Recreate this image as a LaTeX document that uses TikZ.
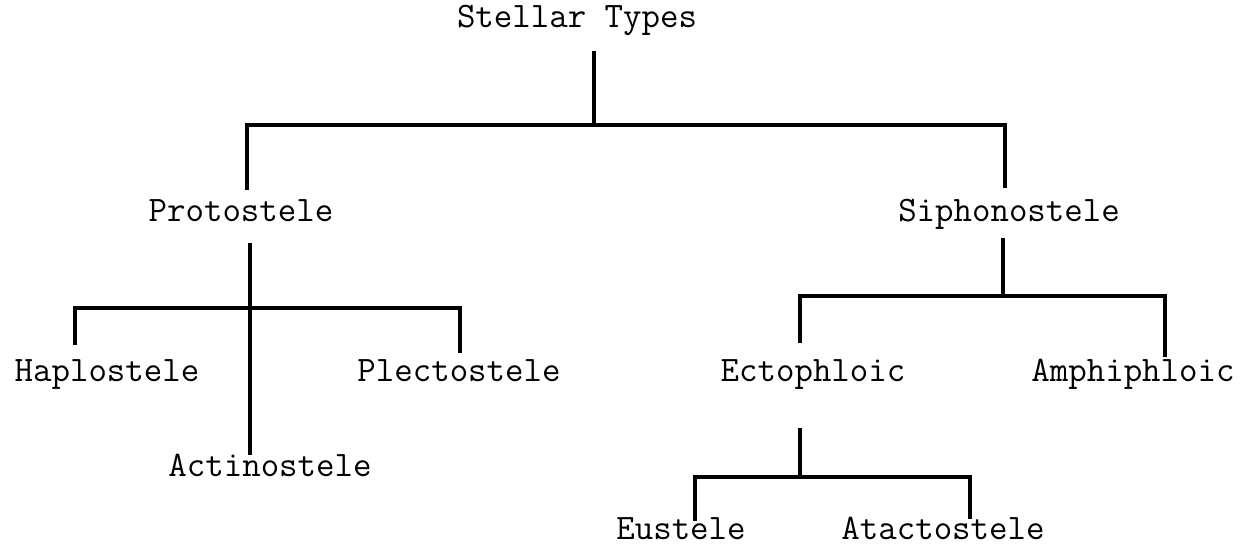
\documentclass[tikz,border=0pt]{standalone}
\begin{document}
\begin{tikzpicture}
  [x=0.02cm,y=-0.02cm,line width=2pt,
   every node/.style={anchor=base,inner sep=0pt,font=\ttfamily\fontsize{20.4pt}{22pt}\selectfont}]
  \useasboundingbox (0,0) rectangle (1249,546);

  \node (st) at (577,28) {Stellar Types};
  \node (pro) at (241,222) {Protostele};
  \node (sip) at (1009,222) {Siphonostele};
  \node (hap) at (107,382) {Haplostele};
  \node (act) at (270,477) {Actinostele};
  \node (ple) at (459,382) {Plectostele};
  \node (ect) at (813,382) {Ectophloic};
  \node (amp) at (1133,382) {Amphiphloic};
  \node (eus) at (681,540) {Eustele};
  \node (ata) at (943,540) {Atactostele};

  % branch points and line ends
  \coordinate (st-o) at (594,51);
  \coordinate (st-j) at (594,125);
  \coordinate (pro-i) at (247,190);
  \coordinate (sip-i) at (1005,188);
  \coordinate (pro-o) at (250,243);
  \coordinate (pro-j) at (250,308);
  \coordinate (act-i) at (250,455);
  \coordinate (hap-i) at (75,345);
  \coordinate (ple-i) at (460,353);
  \coordinate (sip-o) at (1003,238);
  \coordinate (sip-j) at (1003,296);
  \coordinate (ect-i) at (800,343);
  \coordinate (amp-i) at (1165,357);
  \coordinate (ect-o) at (800,428);
  \coordinate (ect-j) at (800,477);
  \coordinate (eus-i) at (695,521);
  \coordinate (ata-i) at (970,519);

  \draw (st-o) -- (st-j);
  \draw (pro-i) |- (st-j) -| (sip-i);
  \draw (pro-o) -- (act-i);
  \draw (hap-i) |- (pro-j) -| (ple-i);
  \draw (sip-o) -- (sip-j);
  \draw (ect-i) |- (sip-j) -| (amp-i);
  \draw (ect-o) -- (ect-j);
  \draw (eus-i) |- (ect-j) -| (ata-i);
\end{tikzpicture}
\end{document}
